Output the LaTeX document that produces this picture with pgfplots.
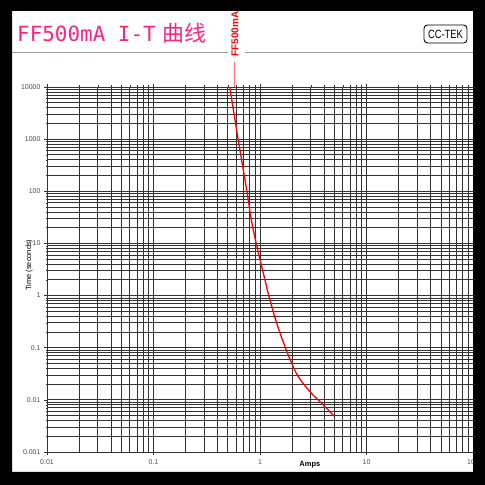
\documentclass[border=0pt]{standalone}
\usepackage{pgfplots}
\pgfplotsset{compat=1.18}
\usepackage{fontspec}
\setmainfont{Liberation Sans}
\newfontfamily\monofont{DejaVu Sans Mono}
\newfontfamily\cjk{Noto Sans CJK SC}
\definecolor{titlepink}{RGB}{255,35,125}
\definecolor{gridc}{RGB}{50,50,50}
\begin{document}
\begin{tikzpicture}[x=1bp,y=1bp]
\fill[white] (0,0) rectangle (485,485);
% header
\node[anchor=base west, inner sep=0, text=titlepink, font=\monofont\fontsize{21}{21}\selectfont] at (17,443) {FF500mA I-T};
\node[anchor=base west, inner sep=0, text=titlepink, font=\cjk\fontsize{22}{22}\selectfont] at (162,443) {曲线};
\draw[gray!80, line width=1bp] (12,432) -- (228,432);
\draw[gray!80, line width=1bp] (245,432) -- (473,432);
\draw[black, line width=0.9bp, rounded corners=3.5bp] (424,442) rectangle (467,460);
\node[inner sep=0, font=\fontsize{12}{12}\selectfont] at (445.5,451) {\scalebox{0.78}[1]{CC-TEK}};
\node[rotate=90, inner sep=0, text=red, font=\bfseries\fontsize{10}{10}\selectfont] at (235,451) {FF500mA};
\draw[red!55, line width=0.9bp] (234.5,423) -- (234.5,398);
\begin{axis}[
  at={(47bp,33bp)}, anchor=south west,
  scale only axis, width=426bp, height=365bp,
  xmode=log, ymode=log,
  xmin=0.01, xmax=100, ymin=0.001, ymax=10000,
  xtick={0.01,0.1,1,10,100},
  xticklabels={0.01,0.1,1,10,100},
  ytick={0.001,0.01,0.1,1,10,100,1000,10000},
  yticklabels={0.001,0.01,0.1,1,10,100,1000,10000},
  grid=both,
  major grid style={gridc, line width=0.9bp},
  minor grid style={gridc, line width=0.9bp},
  axis line style={gridc, line width=0.9bp},
  tick style={gridc, line width=0.6bp},
  tick align=outside,
  major tick length=3bp, minor tick length=1.5bp,
  tick label style={font=\fontsize{7}{7}\selectfont, text=black!70},
  xticklabel style={yshift=-1bp},
  /pgf/number format/assume math mode=true,
  xlabel={Amps},
  xlabel style={at={(axis description cs:0.617,-0.036)}, anchor=center, font=\bfseries\fontsize{7.5}{7.5}\selectfont},
  ylabel={Time (seconds)},
  ylabel style={at={(axis description cs:-0.042,0.512)}, anchor=center, font=\fontsize{7.5}{7.5}\selectfont},
  clip=false,
]
\addplot[red, line width=1.3bp, smooth, tension=0.7] coordinates {
(0.52,10000) (0.625,962) (0.75,106) (0.865,18.1) (1.114,1.99)
(1.241,0.822) (1.436,0.294) (1.718,0.1045) (1.986,0.0502)
(2.29,0.0278) (2.95,0.0143) (3.79,0.0086) (4.95,0.0049)
};
\end{axis}
\fill[black, even odd rule] (0,0) rectangle (485,485) (12,13) rectangle (473,474);
\end{tikzpicture}
\end{document}
